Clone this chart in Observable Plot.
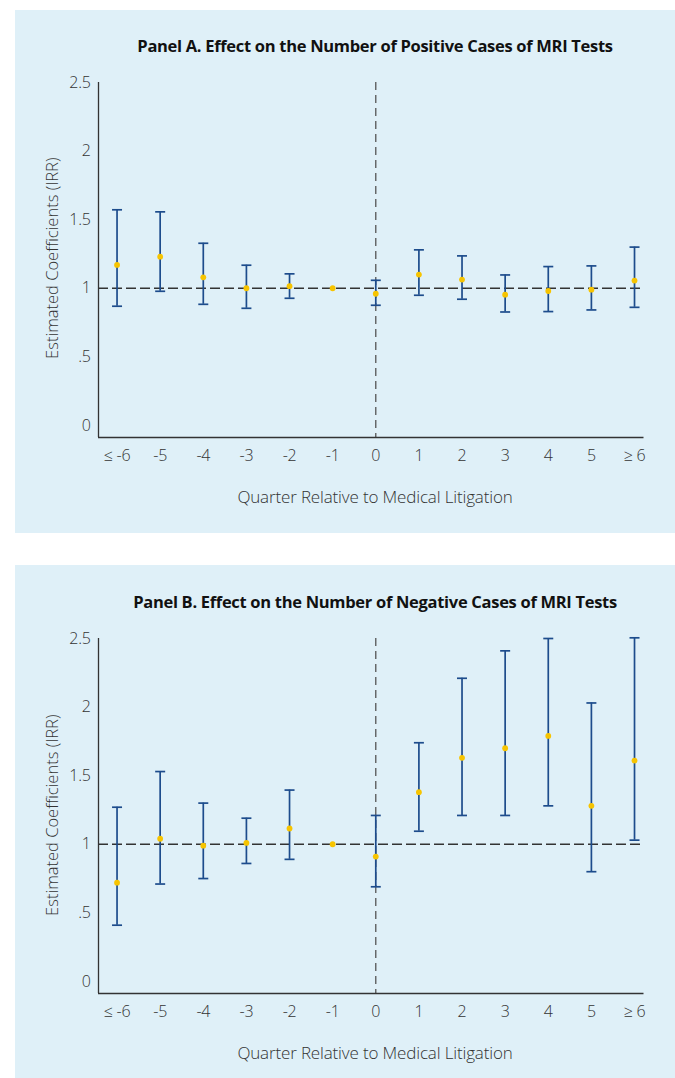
<!DOCTYPE html>
<html>
<head>
<meta charset="utf-8">
<script src="https://cdn.jsdelivr.net/npm/d3@7"></script>
<script src="https://cdn.jsdelivr.net/npm/@observablehq/plot@0.6"></script>
<style>
  html, body { margin: 0; padding: 0; background: #ffffff; }
  #page { position: relative; width: 675px; height: 1078px; overflow: hidden; font-family: "Open Sans", sans-serif; }
  .bg { position: absolute; left: 15px; width: 660px; background: #dff0f8; }
  .title { position: absolute; left: 75px; width: 600px; text-align: center; font-weight: 700; font-size: 16.5px; letter-spacing: -0.3px; color: #111; line-height: 1; }
  .xlabel { position: absolute; left: 175px; width: 400px; text-align: center; font-weight: 300; font-size: 17px; color: #333; line-height: 1; letter-spacing: -0.15px; }
  .ylabel { position: absolute; width: 300px; text-align: center; font-weight: 300; font-size: 16.5px; color: #333; line-height: 1; transform: rotate(-90deg); letter-spacing: 0px; }
  .chart { position: absolute; left: 15px; }
</style>
</head>
<body>
<div id="page">
  <div class="bg" style="top:10px;height:523px"></div>
  <div class="bg" style="top:565px;height:513px"></div>
  <div class="title" style="top:38px">Panel A. Effect on the Number of Positive Cases of MRI Tests</div>
  <div class="title" style="top:594px">Panel B. Effect on the Number of Negative Cases of MRI Tests</div>
  <div class="ylabel" style="left:-98px;top:250px">Estimated Coefficients (IRR)</div>
  <div class="ylabel" style="left:-98px;top:807px">Estimated Coefficients (IRR)</div>
  <div class="chart" id="chartA" style="top:60px"></div>
  <div class="chart" id="chartB" style="top:616px"></div>
  <div class="xlabel" style="top:488px">Quarter Relative to Medical Litigation</div>
  <div class="xlabel" style="top:1044px">Quarter Relative to Medical Litigation</div>
</div>
<script>
// Categories (quarter relative to litigation) and their tick labels
const quarterPos = [-6, -5, -4, -3, -2, -1, 0, 1, 2, 3, 4, 5, 6];
const quarterLabels = ["≤ -6", "-5", "-4", "-3", "-2", "-1", "0", "1", "2", "3", "4", "5", "≥ 6"];

// Y axis ticks
const yTicks = [0, 0.5, 1, 1.5, 2, 2.5];
const yTickLabels = ["0", ".5", "1", "1.5", "2", "2.5"];

// Panel A: positive cases (IRR estimate, lower CI, upper CI); -1 is the reference quarter
const panelAEst = [1.17, 1.23, 1.08, 1.00, 1.015, 1.00, 0.96, 1.10, 1.063, 0.953, 0.98, 0.99, 1.056];
const panelALo  = [0.869, 0.978, 0.883, 0.854, 0.927, null, 0.876, 0.949, 0.92, 0.827, 0.83, 0.842, 0.861];
const panelAHi  = [1.572, 1.557, 1.328, 1.168, 1.105, null, 1.058, 1.28, 1.236, 1.097, 1.158, 1.163, 1.30];

// Panel B: negative cases
const panelBEst = [0.72, 1.04, 0.99, 1.01, 1.115, 1.00, 0.91, 1.38, 1.63, 1.70, 1.79, 1.28, 1.61];
const panelBLo  = [0.41, 0.71, 0.75, 0.86, 0.89, null, 0.69, 1.095, 1.21, 1.21, 1.28, 0.80, 1.03];
const panelBHi  = [1.27, 1.53, 1.30, 1.19, 1.395, null, 1.21, 1.74, 2.21, 2.41, 2.50, 2.03, 2.505];

const xDomain = [-6.43, 6.22];
const yDomain = [-0.088, 2.5];
const barColor = "#1d4c8c";
const dotColor = "#f7c400";

const capSymbol = {
  draw(context, size) {
    const r = Math.sqrt(size / Math.PI);
    context.moveTo(-r, 0);
    context.lineTo(r, 0);
  }
};

function makePanel(est, lo, hi) {
  const rows = quarterPos.map((p, i) => ({pos: p, est: est[i], lo: lo[i], hi: hi[i]}));
  const bars = rows.filter(d => d.lo != null && d.hi != null);
  return Plot.plot({
    width: 660,
    height: 450,
    marginLeft: 83,
    marginRight: 31.5,
    marginTop: 22,
    marginBottom: 73,
    style: {fontFamily: "Open Sans, sans-serif", fontSize: "16px", fontWeight: 300, color: "#333", background: "transparent", overflow: "visible", letterSpacing: "-0.3px"},
    x: {domain: xDomain},
    y: {domain: yDomain},
    marks: [
      Plot.ruleX([0], {stroke: "#555", strokeWidth: 1.3, strokeDasharray: "8,5"}),
      Plot.ruleY([1], {stroke: "#333", strokeWidth: 1.6, strokeDasharray: "10,4"}),
      Plot.ruleX(bars, {x: "pos", y1: "lo", y2: "hi", stroke: barColor, strokeWidth: 1.7}),
      Plot.dot(bars, {x: "pos", y: "lo", r: 5, symbol: capSymbol, stroke: barColor, strokeWidth: 1.7, fill: "none"}),
      Plot.dot(bars, {x: "pos", y: "hi", r: 5, symbol: capSymbol, stroke: barColor, strokeWidth: 1.7, fill: "none"}),
      Plot.dot(rows, {x: "pos", y: "est", r: 2.9, fill: dotColor, stroke: "none"}),
      Plot.ruleX([xDomain[0]], {stroke: "#333", strokeWidth: 1.3}),
      Plot.ruleY([yDomain[0]], {stroke: "#333", strokeWidth: 1.3}),
      Plot.axisX({ticks: quarterPos, tickFormat: d => quarterLabels[quarterPos.indexOf(d)], tickSize: 0, tickPadding: 12, label: null}),
      Plot.axisY({ticks: yTicks, tickFormat: d => yTickLabels[yTicks.indexOf(d)], tickSize: 0, tickPadding: 8, label: null})
    ]
  });
}

document.getElementById("chartA").appendChild(makePanel(panelAEst, panelALo, panelAHi));
document.getElementById("chartB").appendChild(makePanel(panelBEst, panelBLo, panelBHi));
</script>
</body>
</html>
